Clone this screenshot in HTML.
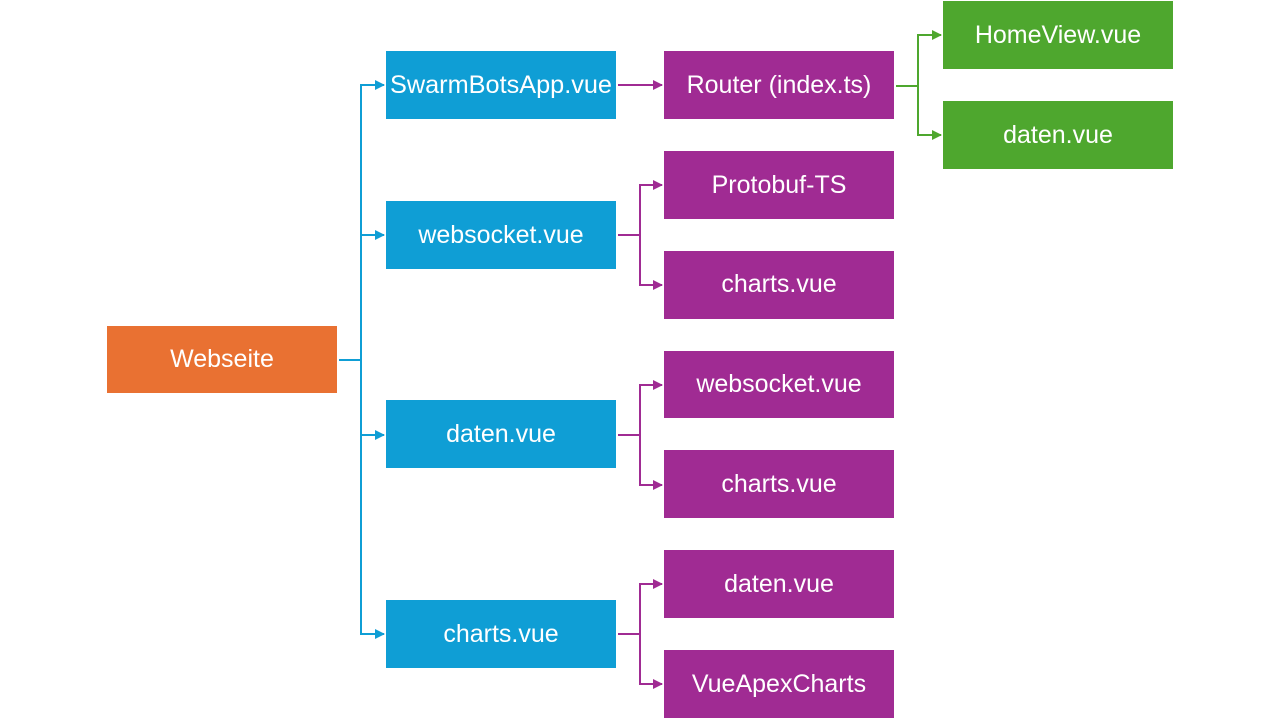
<!DOCTYPE html>
<html><head><meta charset="utf-8"><style>
html,body{margin:0;padding:0;background:#fff;width:1280px;height:720px;overflow:hidden}
text{font-family:"Liberation Sans",sans-serif;font-size:25px;fill:#fff;text-anchor:middle;dominant-baseline:central}
</style></head><body>
<svg width="1280" height="720" viewBox="0 0 1280 720" xmlns="http://www.w3.org/2000/svg">
<defs>
<marker id="ab" markerWidth="10" markerHeight="10" refX="9" refY="5" orient="auto" markerUnits="userSpaceOnUse"><path d="M0,0 L10,5 L0,10 Z" fill="#0F9ED5"/></marker>
<marker id="ap" markerWidth="10" markerHeight="10" refX="9" refY="5" orient="auto" markerUnits="userSpaceOnUse"><path d="M0,0 L10,5 L0,10 Z" fill="#A02B93"/></marker>
<marker id="ag" markerWidth="10" markerHeight="10" refX="9" refY="5" orient="auto" markerUnits="userSpaceOnUse"><path d="M0,0 L10,5 L0,10 Z" fill="#4EA72E"/></marker>
</defs>
<g fill="none" stroke-width="2">
<g stroke="#0F9ED5">
<path d="M339 360 H361 M361 85 V635"/>
<path d="M360 85 H384" marker-end="url(#ab)"/>
<path d="M360 235 H384" marker-end="url(#ab)"/>
<path d="M360 435 H384" marker-end="url(#ab)"/>
<path d="M360 634 H384" marker-end="url(#ab)"/>
</g>
<g stroke="#A02B93">
<path d="M618 85 H662" marker-end="url(#ap)"/>
<path d="M618 235 H640 M640 185 V285"/>
<path d="M639 185 H662" marker-end="url(#ap)"/>
<path d="M639 285 H662" marker-end="url(#ap)"/>
<path d="M618 435 H640 M640 385 V485"/>
<path d="M639 385 H662" marker-end="url(#ap)"/>
<path d="M639 485 H662" marker-end="url(#ap)"/>
<path d="M618 634 H640 M640 584 V684"/>
<path d="M639 584 H662" marker-end="url(#ap)"/>
<path d="M639 684 H662" marker-end="url(#ap)"/>
</g>
<g stroke="#4EA72E">
<path d="M896 86 H918 M918 35 V136"/>
<path d="M917 35 H941" marker-end="url(#ag)"/>
<path d="M917 135 H941" marker-end="url(#ag)"/>
</g>
</g>
<rect x="107" y="326" width="230" height="67" fill="#E97132"/><text x="222" y="359">Webseite</text>
<g fill="#0F9ED5">
<rect x="386" y="51" width="230" height="68"/><rect x="386" y="201" width="230" height="68"/>
<rect x="386" y="400" width="230" height="68"/><rect x="386" y="600" width="230" height="68"/>
</g>
<text x="501" y="85" textLength="222" lengthAdjust="spacingAndGlyphs">SwarmBotsApp.vue</text>
<text x="501" y="235">websocket.vue</text>
<text x="501" y="434">daten.vue</text>
<text x="501" y="634">charts.vue</text>
<g fill="#A02B93">
<rect x="664" y="51" width="230" height="68"/><rect x="664" y="151" width="230" height="68"/>
<rect x="664" y="251" width="230" height="68"/><rect x="664" y="351" width="230" height="67"/>
<rect x="664" y="450" width="230" height="68"/><rect x="664" y="550" width="230" height="68"/>
<rect x="664" y="650" width="230" height="68"/>
</g>
<text x="779" y="85">Router (index.ts)</text>
<text x="779" y="185">Protobuf-TS</text>
<text x="779" y="284">charts.vue</text>
<text x="779" y="384">websocket.vue</text>
<text x="779" y="484">charts.vue</text>
<text x="779" y="584">daten.vue</text>
<text x="779" y="684">VueApexCharts</text>
<g fill="#4EA72E">
<rect x="943" y="1" width="230" height="68"/><rect x="943" y="101" width="230" height="68"/>
</g>
<text x="1058" y="35">HomeView.vue</text>
<text x="1058" y="135">daten.vue</text>
</svg>
</body></html>
